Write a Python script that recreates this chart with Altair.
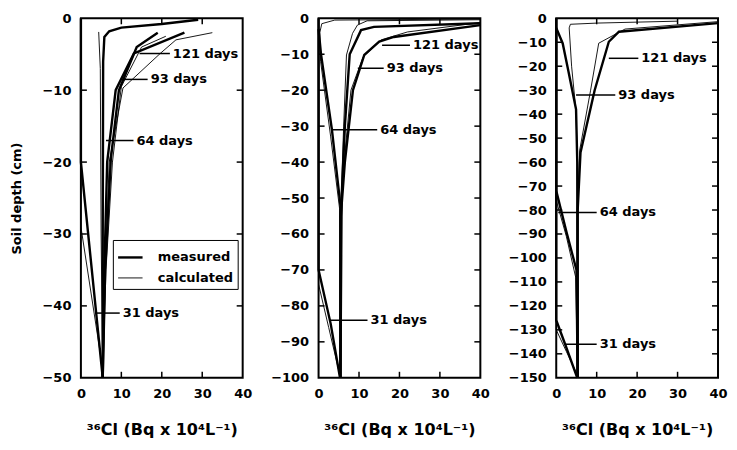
import altair as alt
import pandas as pd

FONT = "DejaVu Sans"
W, H = 162, 360
X_TICKS = [0, 10, 20, 30, 40]
X_TITLE = "³⁶Cl (Bq x 10⁴L⁻¹)"
Y_TITLE = "Soil depth (cm)"
KINDS = ["measured", "calculated"]

# ---- Panel 1 (0 to -50 cm): (concentration, depth) pairs
P1_31_MEAS = [(0, 0), (0, -20), (5.4, -50)]
P1_31_CALC = [(0, 0), (0, -29), (4.9, -47), (5.4, -50)]
P1_64_MEAS = [(29, -0.2), (20, -0.8), (10, -1.3), (7, -1.8), (5.8, -2.6), (5.5, -6), (5.4, -30), (5.4, -50)]
P1_64_CALC = [(4.4, -1.9), (4.8, -7), (5.0, -30), (5.4, -50)]
P1_93_MEAS = [(25.6, -2), (13.1, -4.9), (8.6, -10), (6.5, -20), (5.8, -35), (5.4, -50)]
P1_93_CALC = [(32.5, -2), (23.5, -3), (19.6, -4.9), (10.4, -9.7), (7, -20), (5.7, -40), (5.4, -50)]
P1_121_MEAS = [(19, -2), (13.8, -4), (9.4, -10), (7.4, -19.6), (6, -35), (5.4, -50)]
P1_121_CALC = [(21, -2.5), (15, -4), (10, -9.5), (7.8, -20), (6.2, -35), (5.4, -50)]

# ---- Panel 2 (0 to -100 cm)
P2_31_MEAS = [(0, 0), (0, -70), (3, -85), (5.3, -100)]
P2_31_CALC = [(0, 0), (0, -74), (2.5, -86), (5, -98), (5.3, -100)]
P2_64_MEAS = [(0, -3), (0.6, -10), (3.3, -31), (5.4, -52), (5.4, -100)]
P2_64_CALC = [(40, -0.2), (4, -0.5), (0.8, -1.5), (0.3, -4), (0.5, -12), (3, -33), (5.2, -53), (5.4, -100)]
P2_93_MEAS = [(40, -1.4), (13.7, -2.4), (10.5, -3.3), (7.7, -10), (6.5, -30), (5.7, -50), (5.4, -100)]
P2_93_CALC = [(40, -0.4), (12, -0.7), (9.6, -1.9), (8.4, -4.2), (6.9, -10.2), (6.2, -30), (5.6, -50), (5.4, -100)]
P2_121_MEAS = [(40, -1.9), (18.6, -5.2), (15, -6.5), (11.3, -10.2), (8.5, -20), (6.5, -40), (5.5, -55), (5.4, -100)]
P2_121_CALC = [(40, -1.2), (22, -3.8), (15.5, -6), (11, -10.8), (8, -20), (6.3, -40), (5.4, -55), (5.4, -100)]

# ---- Panel 3 (0 to -150 cm)
P3_31_MEAS = [(0, 0), (0, -126), (2.2, -136), (5.2, -150)]
P3_31_CALC = [(0, 0), (0, -130), (2.5, -139), (5, -148), (5.2, -150)]
P3_64_MEAS = [(0, 0), (0, -72), (2.5, -89), (5.0, -105), (5.3, -150)]
P3_64_CALC = [(0, 0), (0, -76), (2.5, -91), (4.8, -108), (5.3, -150)]
P3_93_MEAS = [(0, -4), (1.6, -10.5), (3, -22), (4.9, -38), (5.2, -60), (5.3, -150)]
P3_93_CALC = [(30, -1.2), (10.2, -2), (3.5, -2.5), (3.2, -4), (3.8, -20), (4.9, -39), (5.2, -60), (5.3, -150)]
P3_121_MEAS = [(40, -2), (15.5, -5.6), (13, -9.8), (9.5, -30), (6, -56), (5.3, -80), (5.3, -150)]
P3_121_CALC = [(40, -1.4), (17, -4.5), (10.5, -10.4), (8.5, -30), (5.8, -55), (5.3, -80), (5.3, -150)]

# ---- Day labels and leaders
LABELS = ["121 days", "93 days", "64 days", "31 days"]
P1_LABEL_DEPTH = [-4.9, -8.5, -17, -41]
P1_LEADER_START = [14.5, 10, 6.2, 3.6]
P1_LEADER_END = [22, 16.5, 13, 9.6]
P2_LABEL_DEPTH = [-7.5, -13.9, -31, -84]
P2_LEADER_START = [15.7, 9.7, 3.3, 2.9]
P2_LEADER_END = [22.6, 16.1, 14.5, 12.1]
P3_LABEL_DEPTH = [-16.7, -32, -81, -136]
P3_LEADER_START = [13, 4.9, 0.5, 2]
P3_LEADER_END = [20.3, 14.6, 10, 10]


def curves_df(curves):
    rows = []
    for name, kind, pts in curves:
        for i, (v, d) in enumerate(pts):
            rows.append({"curve": name, "kind": kind, "i": i, "x": v, "depth": d})
    return pd.DataFrame(rows)


def panel(curves, depths, starts, ends, ymin, first):
    xs = alt.Scale(domain=[0, 40], nice=False, zero=False)
    ys = alt.Scale(domain=[ymin, 0], nice=False)
    yvals = list(range(0, ymin - 1, -10))
    xaxis = alt.Axis(values=X_TICKS, title=X_TITLE, ticks=False, domain=False, grid=False,
                     labelPadding=10, titlePadding=21, labelFlush=False,
                     titleFontSize=16)
    yargs = dict(values=yvals, ticks=False, domain=False, grid=False, labelPadding=10)
    if first:
        yaxis = alt.Axis(title=Y_TITLE, titlePadding=18, **yargs)
    else:
        yaxis = alt.Axis(title="", **yargs)

    def X(f):
        return alt.X(f, type="quantitative", scale=xs, axis=xaxis)

    def Y(f):
        return alt.Y(f, type="quantitative", scale=ys, axis=yaxis)

    df = curves_df(curves)
    sw_scale = alt.Scale(domain=KINDS, range=[2.4, 0.9])
    if first:
        leg = alt.Legend(title=None, orient="none", legendX=32, legendY=222,
                         strokeColor="black", padding=4, symbolType="stroke",
                         symbolSize=600, symbolStrokeColor="black",
                         labelFont=FONT, labelFontSize=13, labelFontWeight="bold",
                         labelColor="black", rowPadding=0, labelOffset=14)
    else:
        leg = None
    lines = alt.Chart(df).mark_line(color="black").encode(
        x=X("x"), y=Y("depth"), detail="curve:N", order="i:Q",
        strokeWidth=alt.StrokeWidth("kind:N", scale=sw_scale, legend=leg),
    )

    lab = pd.DataFrame({"label": LABELS, "depth": depths, "x": starts, "x_end": ends})
    leaders = alt.Chart(lab).mark_rule(color="black", strokeWidth=1.5).encode(
        x=X("x"), x2="x_end:Q", y=Y("depth"))
    texts = alt.Chart(lab).mark_text(align="left", baseline="middle", dx=3, font=FONT,
                                     fontSize=13, fontWeight="bold", color="black").encode(
        x=X("x_end"), y=Y("depth"), text="label:N")

    ytk = pd.DataFrame({"depth": [v for v in yvals if v not in (0, ymin)]})
    xtk = pd.DataFrame({"x": [10, 20, 30]})
    yl = alt.Chart(ytk).mark_rule(color="black", strokeWidth=1.5).encode(
        y=Y("depth"), x=alt.value(0), x2=alt.value(6))
    yr = alt.Chart(ytk).mark_rule(color="black", strokeWidth=1.5).encode(
        y=Y("depth"), x=alt.value(W - 6), x2=alt.value(W))
    xb = alt.Chart(xtk).mark_rule(color="black", strokeWidth=1.5).encode(
        x=X("x"), y=alt.value(H - 6), y2=alt.value(H))
    xt = alt.Chart(xtk).mark_rule(color="black", strokeWidth=1.5).encode(
        x=X("x"), y=alt.value(0), y2=alt.value(6))

    return alt.layer(lines, leaders, texts, yl, yr, xb, xt).properties(width=W, height=H)


p1 = panel([
    ("31m", "measured", P1_31_MEAS), ("31c", "calculated", P1_31_CALC),
    ("64m", "measured", P1_64_MEAS), ("64c", "calculated", P1_64_CALC),
    ("93m", "measured", P1_93_MEAS), ("93c", "calculated", P1_93_CALC),
    ("121m", "measured", P1_121_MEAS), ("121c", "calculated", P1_121_CALC),
], P1_LABEL_DEPTH, P1_LEADER_START, P1_LEADER_END, -50, True)

p2 = panel([
    ("31m", "measured", P2_31_MEAS), ("31c", "calculated", P2_31_CALC),
    ("64m", "measured", P2_64_MEAS), ("64c", "calculated", P2_64_CALC),
    ("93m", "measured", P2_93_MEAS), ("93c", "calculated", P2_93_CALC),
    ("121m", "measured", P2_121_MEAS), ("121c", "calculated", P2_121_CALC),
], P2_LABEL_DEPTH, P2_LEADER_START, P2_LEADER_END, -100, False)

p3 = panel([
    ("31m", "measured", P3_31_MEAS), ("31c", "calculated", P3_31_CALC),
    ("64m", "measured", P3_64_MEAS), ("64c", "calculated", P3_64_CALC),
    ("93m", "measured", P3_93_MEAS), ("93c", "calculated", P3_93_CALC),
    ("121m", "measured", P3_121_MEAS), ("121c", "calculated", P3_121_CALC),
], P3_LABEL_DEPTH, P3_LEADER_START, P3_LEADER_END, -150, False)

chart = alt.hconcat(p1, p2, p3, spacing=76, bounds="flush").properties(
    padding={"left": 2, "top": 3, "right": 0, "bottom": 0}
).configure_view(
    stroke="black", strokeWidth=2
).configure_axis(
    labelFont=FONT, titleFont=FONT, labelFontSize=13, titleFontSize=13,
    labelFontWeight="bold", titleFontWeight="bold", labelColor="black", titleColor="black"
)

chart.save("out.html", embed_options={"renderer": "svg", "actions": False})
